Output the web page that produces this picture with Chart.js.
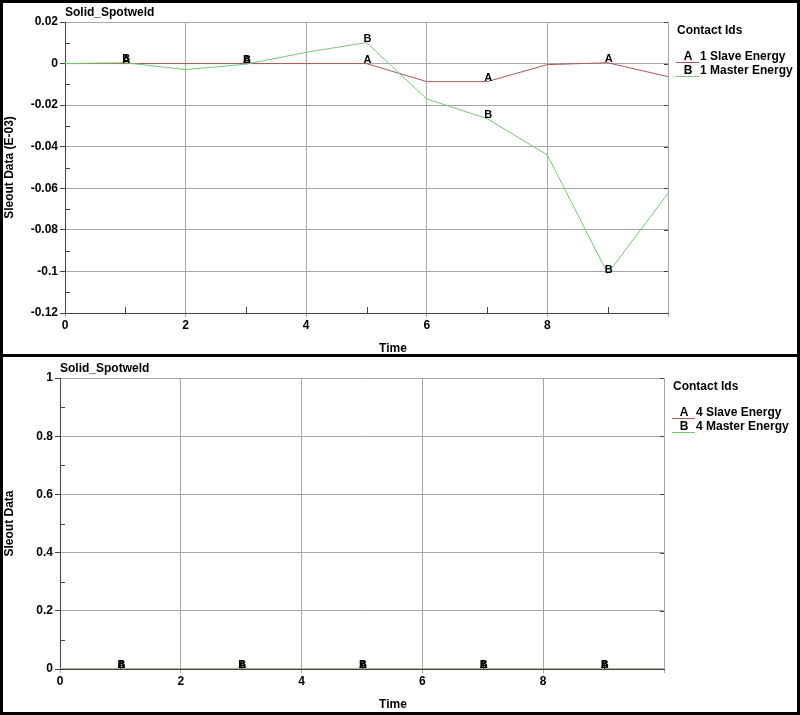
<!DOCTYPE html>
<html>
<head>
<meta charset="utf-8">
<script src="https://cdn.jsdelivr.net/npm/chart.js@4.4.0/dist/chart.umd.min.js"></script>
<style>
  body { margin: 0; background: #fff; }
  #page { position: relative; width: 800px; height: 715px; overflow: hidden; }
  canvas { position: absolute; left: 0; }
  #split { position: absolute; left: 0; top: 354px; width: 800px; height: 3px; background: #000; }
  #frame { position: absolute; left: 0; top: 0; width: 800px; height: 715px; box-sizing: border-box; border: 3px solid #000; }
</style>
</head>
<body>
<div id="page">
  <canvas id="topChart" width="800" height="354" style="top:0"></canvas>
  <canvas id="bottomChart" width="800" height="358" style="top:357px"></canvas>
  <div id="split"></div>
  <div id="frame"></div>
</div>
<script>
// time samples shared by both plots
const timeValues = [0, 1, 2, 3, 4, 5, 6, 7, 8, 9, 10];

// upper plot, values in E-03
const slaveEnergy1  = [0, 0, 0, 0, 0, 0, -0.0087, -0.0087, -0.0005, 0.0004, -0.0063];
const masterEnergy1 = [0, 0.0004, -0.0029, -0.0003, 0.0054, 0.0101, -0.017, -0.0265, -0.044, -0.101, -0.0625];

// lower plot
const slaveEnergy4  = [0, 0, 0, 0, 0, 0, 0, 0, 0, 0, 0];
const masterEnergy4 = [0, 0, 0, 0, 0, 0, 0, 0, 0, 0, 0];

const seriesLetters = ['A', 'B'];
const topSeriesNames = ['1 Slave Energy', '1 Master Energy'];
const bottomSeriesNames = ['4 Slave Energy', '4 Master Energy'];

const slaveColor = '#a85858';
const masterColor = '#74c874';
const FONT = '"Liberation Sans", Arial, sans-serif';

function toPoints(ys) {
    return timeValues.map((t, i) => ({ x: t, y: ys[i] }));
}

// minor ticks, curve letters, title, axis titles and the "Contact Ids" box
const hyperDecor = {
    id: 'hyperDecor',
    afterDraw(chart, args, opts) {
        const ctx = chart.ctx;
        const a = chart.chartArea;
        const xs = chart.scales.x, ys = chart.scales.y;
        ctx.save();
        ctx.strokeStyle = '#444';
        ctx.lineWidth = 1;
        const seg = (x1, y1, x2, y2) => {
            ctx.beginPath(); ctx.moveTo(x1, y1); ctx.lineTo(x2, y2); ctx.stroke();
        };
        // y minor ticks on the left, major stubs on the right
        ys.ticks.forEach((t, i) => {
            const py = Math.round(ys.getPixelForValue(t.value)) + 0.5;
            seg(a.right - 4, py, a.right, py);
            if (i < ys.ticks.length - 1) {
                const my = Math.round(ys.getPixelForValue((t.value + ys.ticks[i + 1].value) / 2)) + 0.5;
                seg(a.left, my, a.left + 5, my);
            }
        });
        // x minor ticks at odd times
        xs.ticks.forEach((t, i) => {
            if (i < xs.ticks.length - 1) {
                const mx = Math.round(xs.getPixelForValue((t.value + xs.ticks[i + 1].value) / 2)) + 0.5;
                seg(mx, a.bottom, mx, a.bottom - 6);
            }
        });

        // curve letters on every other sample
        ctx.fillStyle = '#000';
        ctx.font = 'bold 11px ' + FONT;
        ctx.textAlign = 'center';
        ctx.textBaseline = 'middle';
        chart.data.datasets.forEach((ds, di) => {
            chart.getDatasetMeta(di).data.forEach((pt, i) => {
                if (i % 2 === 1) ctx.fillText(seriesLetters[di], pt.x + 1, pt.y - 4);
            });
        });

        // plot title
        ctx.font = 'bold 12px ' + FONT;
        ctx.textAlign = 'left';
        ctx.fillText(opts.title, a.left, a.top - 9);

        // axis titles
        ctx.textAlign = 'center';
        ctx.fillText('Time', 393, a.bottom + 36);
        ctx.save();
        ctx.translate(10, (a.top + a.bottom) / 2);
        ctx.rotate(-Math.PI / 2);
        ctx.fillText(opts.yTitle, 0, 0);
        ctx.restore();

        // legend
        const lx = a.right + 9;
        ctx.textAlign = 'left';
        ctx.font = 'bold 12px ' + FONT;
        ctx.fillText('Contact Ids', lx, a.top + 9);
        chart.data.datasets.forEach((ds, di) => {
            const ry = a.top + 35 + di * 14;
            ctx.strokeStyle = ds.borderColor;
            seg(lx - 1, ry + 5.5, lx + 22, ry + 5.5);
            ctx.textAlign = 'center';
            ctx.fillText(seriesLetters[di], lx + 11, ry);
            ctx.textAlign = 'left';
            ctx.fillText(ds.label, lx + 23, ry);
        });
        ctx.restore();
    }
};

function makeChart(id, names, slave, master, yMin, yMax, yStep, pad, yWidth, xHeight, title, yTitle) {
    const tickFont = { family: FONT, size: 12, weight: 'bold' };
    return new Chart(document.getElementById(id), {
        type: 'line',
        data: {
            datasets: [
                // master drawn on top of slave
                { label: names[0], data: toPoints(slave), borderColor: slaveColor, borderWidth: 1, pointRadius: 0, tension: 0, order: 2 },
                { label: names[1], data: toPoints(master), borderColor: masterColor, borderWidth: 1, pointRadius: 0, tension: 0, order: 1 }
            ]
        },
        options: {
            responsive: false,
            animation: false,
            devicePixelRatio: 1,
            layout: { padding: pad },
            plugins: {
                legend: { display: false },
                tooltip: { enabled: false },
                hyperDecor: { title: title, yTitle: yTitle }
            },
            scales: {
                x: {
                    type: 'linear',
                    min: 0, max: 10,
                    afterFit: s => { s.height = xHeight; },
                    ticks: {
                        stepSize: 2, color: '#000', font: tickFont, padding: 1, maxRotation: 0,
                        callback: v => (v === 10 ? '' : v)
                    },
                    grid: { color: '#a6a6a6', tickLength: 4, tickColor: '#a6a6a6' },
                    border: { color: '#444' }
                },
                y: {
                    min: yMin, max: yMax,
                    afterFit: s => { s.width = yWidth; },
                    ticks: {
                        stepSize: yStep, color: '#000', font: tickFont, padding: 2,
                        callback: v => String(parseFloat(v.toFixed(3)))
                    },
                    grid: { color: '#a6a6a6', tickLength: 5, tickColor: '#444' },
                    border: { color: '#444' }
                }
            }
        },
        plugins: [hyperDecor]
    });
}

makeChart('topChart', topSeriesNames, slaveEnergy1, masterEnergy1, -0.12, 0.02, 0.02,
    { top: 22, right: 132, left: 0, bottom: 0 }, 65, 41, 'Solid_Spotweld', 'Sleout Data (E-03)');
makeChart('bottomChart', bottomSeriesNames, slaveEnergy4, masterEnergy4, 0, 1, 0.2,
    { top: 21, right: 136, left: 0, bottom: 0 }, 60, 46, 'Solid_Spotweld', 'Sleout Data');
</script>
</body>
</html>
